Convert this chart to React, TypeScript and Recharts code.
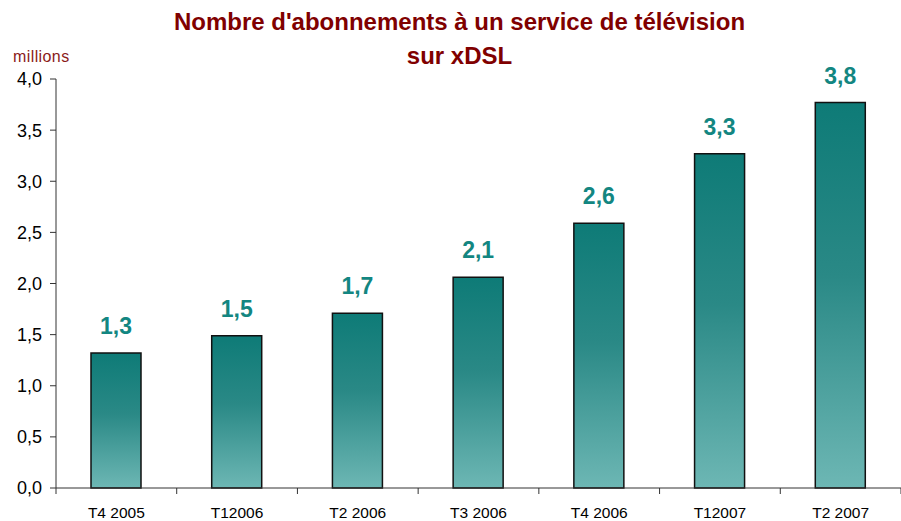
import React from "react";
import { BarChart, Bar, XAxis, YAxis, LabelList } from "recharts";

// trimestres et abonnements (millions)
const categories = ["T4 2005", "T12006", "T2 2006", "T3 2006", "T4 2006", "T12007", "T2 2007"];
const abonnements = [1.32, 1.49, 1.71, 2.06, 2.59, 3.27, 3.77];
const yTicks = [0, 0.5, 1, 1.5, 2, 2.5, 3, 3.5, 4];

const data = categories.map((c, i) => ({ trimestre: c, valeur: abonnements[i] }));

const FONT = "'Liberation Sans', Arial, sans-serif";
const PLOT_LEFT = 56;
const PLOT_WIDTH = 845;
const BAND = PLOT_WIDTH / categories.length;

const fmt = (v: number) => v.toFixed(1).replace(".", ",");

// étiquette de l'axe X avec le trait de graduation entre catégories
function XTick(props: any) {
  const { x, y, payload, index } = props;
  const half = BAND / 2;
  return (
    <g>
      <line x1={x - half} y1={y - 8} x2={x - half} y2={y - 2} stroke="#333" />
      {index === categories.length - 1 && (
        <line x1={x + half} y1={y - 8} x2={x + half} y2={y - 2} stroke="#333" />
      )}
      <text x={x} y={y + 22} textAnchor="middle" fontSize={15.5} fill="#000" fontFamily={FONT}>
        {payload.value}
      </text>
    </g>
  );
}

export default function App() {
  return (
    <div style={{ position: "absolute", left: 0, top: 0, width: 901, height: 521, background: "#fff" }}>
      <div
        style={{
          position: "absolute",
          left: 0,
          width: 901,
          top: 5,
          textAlign: "center",
          fontFamily: FONT,
          fontWeight: "bold",
          fontSize: 24,
          lineHeight: "34px",
          color: "#800000",
          paddingLeft: 18,
          boxSizing: "border-box",
        }}
      >
        Nombre d'abonnements à un service de télévision
        <br />
        sur xDSL
      </div>
      <div
        style={{
          position: "absolute",
          left: 13,
          top: 48,
          fontFamily: FONT,
          fontSize: 16,
          letterSpacing: 0.4,
          color: "#8B1A1A",
        }}
      >
        millions
      </div>
      <BarChart
        width={901}
        height={521}
        data={data}
        margin={{ top: 79, right: 0, left: PLOT_LEFT - 50, bottom: 3 }}
        barCategoryGap={0}
      >
        <defs>
          <linearGradient id="tealGrad" x1="0" y1="0" x2="0" y2="1">
            <stop offset="0%" stopColor="#0E7B77" />
            <stop offset="45%" stopColor="#2A8986" />
            <stop offset="100%" stopColor="#6DB7B4" />
          </linearGradient>
        </defs>
        <XAxis
          dataKey="trimestre"
          height={30}
          axisLine={{ stroke: "#333" }}
          tickLine={false}
          tick={<XTick />}
          interval={0}
        />
        <YAxis
          width={50}
          domain={[0, 4]}
          ticks={yTicks}
          tickFormatter={fmt}
          axisLine={{ stroke: "#333" }}
          tickLine={{ stroke: "#333" }}
          tickSize={6}
          tickMargin={8}
          tick={{ fontSize: 18, fill: "#000", fontFamily: FONT }}
        />
        <Bar
          dataKey="valeur"
          barSize={50}
          fill="url(#tealGrad)"
          stroke="#111"
          strokeWidth={1.5}
          isAnimationActive={false}
        >
          <LabelList
            dataKey="valeur"
            position="top"
            offset={19}
            formatter={(v: any) => fmt(Number(v))}
            style={{ fontSize: 23, fontWeight: "bold", fill: "#138681", fontFamily: FONT }}
          />
        </Bar>
      </BarChart>
    </div>
  );
}
